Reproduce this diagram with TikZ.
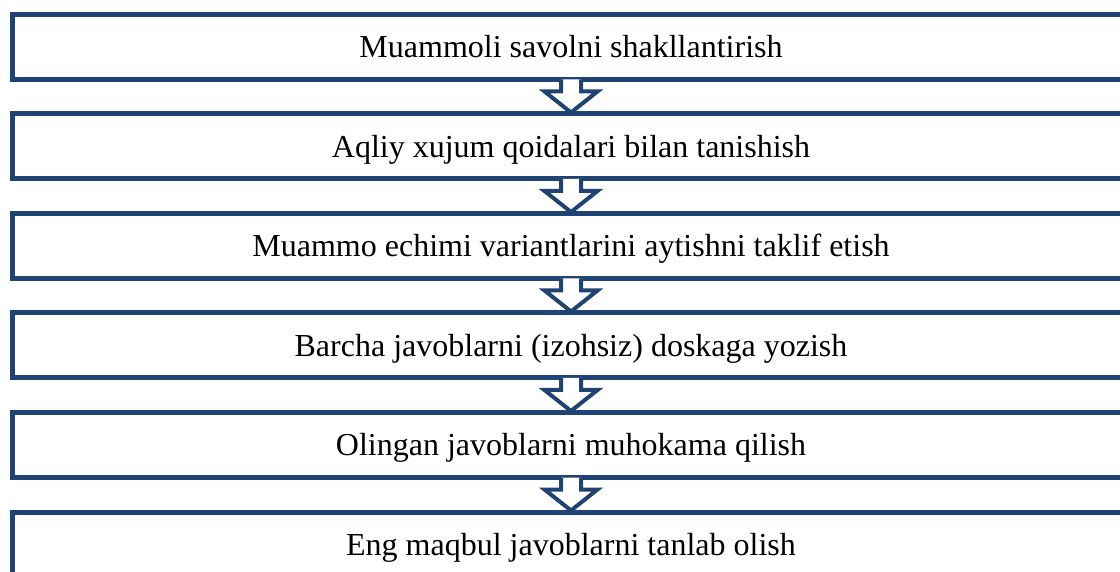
\documentclass[tikz,border=0pt]{standalone}
\usepackage{fontspec}
\setmainfont{Liberation Serif}
\usetikzlibrary{calc}
\definecolor{boxblue}{RGB}{31,67,115}
\begin{document}
\begin{tikzpicture}[x=1pt,y=1pt,
  stepbox/.style={draw=boxblue, line width=5pt, fill=white,
    minimum width=1117pt, minimum height=65pt, inner sep=0pt,
    text height=25pt, text depth=3pt,
    font=\fontsize{32}{36}\selectfont, anchor=center},
  downarrow/.style={draw=boxblue, line width=4pt, fill=white, line join=miter}]
\useasboundingbox (0,0) rectangle (1120,571);
\clip (0,0) rectangle (1120,571);
\foreach \i/\t in {1/{Muammoli savolni shakllantirish},
                   2/{Aqliy xujum qoidalari bilan tanishish},
                   3/{Muammo echimi variantlarini aytishni taklif etish},
                   4/{Barcha javoblarni (izohsiz) doskaga yozish},
                   5/{Olingan javoblarni muhokama qilish},
                   6/{Eng maqbul javoblarni tanlab olish}}{
  \node[stepbox] (b\i) at (571, {571-47-99.5*(\i-1)}) {\t};
}
\foreach \i in {1,...,5}{
  \draw[downarrow] ($(b\i.south)+(-10,2.5)$) -- ($(b\i.south)+(-10,-9.5)$)
    -- ($(b\i.south)+(-26.5,-9.5)$) -- ($(b\i.south)+(0,-30.5)$)
    -- ($(b\i.south)+(26.5,-9.5)$) -- ($(b\i.south)+(10,-9.5)$)
    -- ($(b\i.south)+(10,2.5)$);
}
\end{tikzpicture}
\end{document}
